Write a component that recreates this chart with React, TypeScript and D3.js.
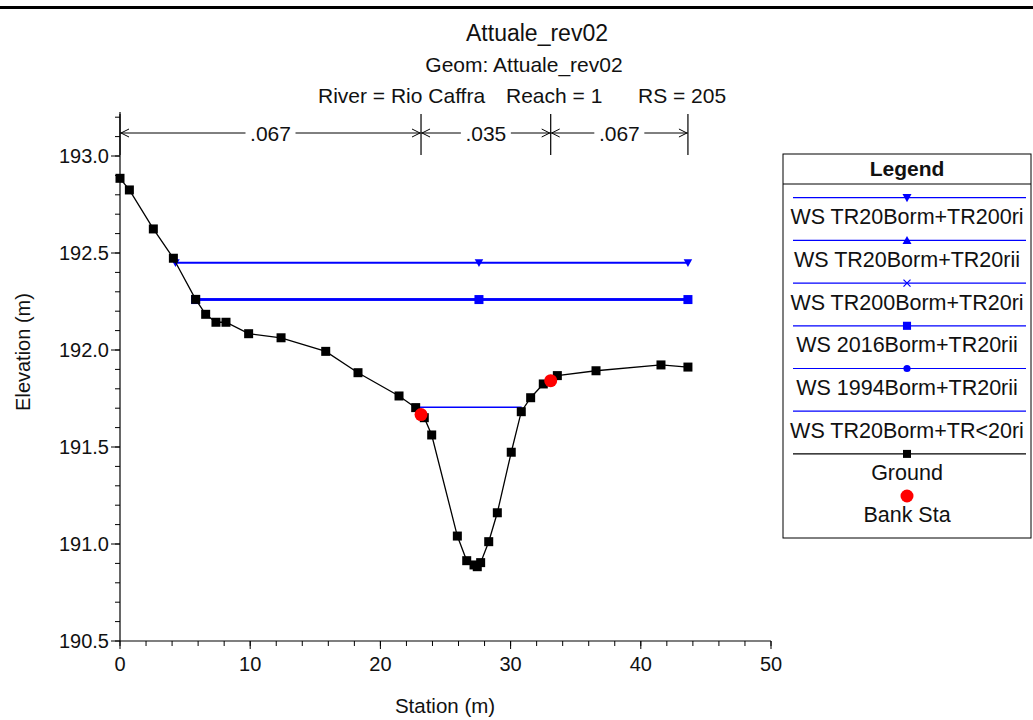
import React from "react";
import * as d3 from "d3";

const groundStation = [0, 0.72, 2.56, 4.1, 5.81, 6.58, 7.37, 8.14, 9.88, 12.37, 15.8, 18.28, 21.43, 22.71, 23.37, 23.94, 25.91, 26.63, 27.19, 27.44, 27.7, 28.32, 28.98, 30.05, 30.82, 31.54, 32.51, 33.59, 36.56, 41.55, 43.62];
const groundElev = [192.885, 192.825, 192.624, 192.473, 192.261, 192.184, 192.143, 192.143, 192.084, 192.063, 191.993, 191.883, 191.763, 191.703, 191.651, 191.562, 191.041, 190.914, 190.892, 190.883, 190.904, 191.012, 191.161, 191.473, 191.682, 191.754, 191.825, 191.868, 191.893, 191.923, 191.912];

const bankStation = [23.12, 33.08];
const bankElev = [191.667, 191.842];

const manningBreaks = [0, 23.12, 33.08, 43.62];
const manningN = [".067", ".035", ".067"];

const wsNames = ["WS TR20Borm+TR200ri", "WS TR20Borm+TR20rii", "WS TR200Borm+TR20ri", "WS 2016Borm+TR20rii", "WS 1994Borm+TR20rii", "WS TR20Borm+TR<20ri"];
const wsElev = [192.45, 192.26, 192.26, 192.26, 192.26, 191.705];
const wsLeft = [4.26, 5.81, 5.81, 5.81, 5.81, 22.75];
const wsRight = [43.62, 43.62, 43.62, 43.62, 43.62, 30.85];
const wsSymbol = ["triangleDown", "triangleUp", "cross", "square", "circle", "none"];
const wsMarkerMid = 27.57;

const xTicks = [0, 10, 20, 30, 40, 50];
const yTicks = [190.5, 191.0, 191.5, 192.0, 192.5, 193.0];

const FONT = "'Liberation Sans', Arial, sans-serif";
const BLUE = "#0000ff";

function Marker({ type, x, y, color, s = 1 }: { type: string; x: number; y: number; color: string; s?: number }) {
  if (type === "square") return <rect x={x - 4.5 * s} y={y - 4.5 * s} width={9 * s} height={9 * s} fill={color} />;
  if (type === "circle") return <circle cx={x} cy={y} r={4 * s} fill={color} />;
  if (type === "triangleDown") return <path d={`M${x - 5 * s},${y - 4 * s}L${x + 5 * s},${y - 4 * s}L${x},${y + 5 * s}Z`} fill={color} />;
  if (type === "triangleUp") return <path d={`M${x - 5 * s},${y + 4 * s}L${x + 5 * s},${y + 4 * s}L${x},${y - 5 * s}Z`} fill={color} />;
  if (type === "cross") return <path d={`M${x - 3.5},${y - 3.5}L${x + 3.5},${y + 3.5}M${x - 3.5},${y + 3.5}L${x + 3.5},${y - 3.5}`} stroke={color} strokeWidth={1.2} />;
  return null;
}

export default function App() {
  const x = d3.scaleLinear().domain([0, 50]).range([120, 771]);
  const y = d3.scaleLinear().domain([190.5, 193.0]).range([641, 156]);
  const yTop = y.invert(112);

  const line = d3.line<[number, number]>().x((d) => x(d[0])).y((d) => y(d[1]));
  const groundPts: [number, number][] = groundStation.map((s, i) => [s, groundElev[i]]);

  const yMinor = d3.range(190.5, yTop, 0.1).map((v) => +v.toFixed(2));
  const xMinor = d3.range(0, 50.01, 2);

  const drawOrder = [5, 1, 2, 4, 3, 0];

  const dimY = 133;
  const legX = 783, legW = 248, legTop = 154, legBottom = 538;
  const legCx = legX + legW / 2;
  const rowH = 42.7;

  return (
    <svg width={1033} height={720} style={{ position: "absolute", left: 0, top: 0, background: "#fff" }} fontFamily={FONT}>
      <rect x={0} y={0} width={1033} height={720} fill="#fff" />
      <rect x={0} y={6} width={1033} height={3} fill="#000" />

      {/* Titles */}
      <text x={537} y={41} textAnchor="middle" fontSize={23} fill="#111">Attuale_rev02</text>
      <text x={524} y={72} textAnchor="middle" fontSize={21} fill="#111">Geom: Attuale_rev02</text>
      <text x={318} y={103} fontSize={21} fill="#111">River = Rio Caffra</text>
      <text x={506} y={103} fontSize={21} fill="#111">Reach = 1</text>
      <text x={638} y={103} fontSize={21} fill="#111">RS = 205</text>

      {/* Manning's n dimension lines */}
      {manningBreaks.map((s, i) => (
        <line key={"vb" + i} x1={x(s)} x2={x(s)} y1={114} y2={155} stroke="#000" strokeWidth={1.2} />
      ))}
      {manningN.map((n, i) => {
        const x0 = x(manningBreaks[i]);
        const x1 = x(manningBreaks[i + 1]);
        const cx = (x0 + x1) / 2;
        const tw = 42;
        return (
          <g key={"n" + i}>
            <line x1={x0} x2={cx - tw / 2 - 4} y1={dimY} y2={dimY} stroke="#000" strokeWidth={1} />
            <line x1={cx + tw / 2 + 4} x2={x1} y1={dimY} y2={dimY} stroke="#000" strokeWidth={1} />
            <path d={`M${x0 + 9},${dimY - 4}L${x0 + 1},${dimY}L${x0 + 9},${dimY + 4}`} fill="none" stroke="#000" strokeWidth={1} />
            <path d={`M${x1 - 9},${dimY - 4}L${x1 - 1},${dimY}L${x1 - 9},${dimY + 4}`} fill="none" stroke="#000" strokeWidth={1} />
            <text x={cx} y={dimY + 8} textAnchor="middle" fontSize={21} fill="#111">{n}</text>
          </g>
        );
      })}

      {/* Axes */}
      <line x1={120} x2={120} y1={112} y2={641} stroke="#000" strokeWidth={1.2} />
      <line x1={120} x2={771} y1={641} y2={641} stroke="#000" strokeWidth={1.2} />
      {yMinor.map((v, i) => (
        <line key={"ym" + i} x1={115} x2={120} y1={y(v)} y2={y(v)} stroke="#000" strokeWidth={1} />
      ))}
      {yTicks.map((v) => (
        <g key={"yt" + v}>
          <line x1={111} x2={120} y1={y(v)} y2={y(v)} stroke="#000" strokeWidth={1} />
          <text x={109} y={y(v) + 7} textAnchor="end" fontSize={20} fill="#111">{d3.format(".1f")(v)}</text>
        </g>
      ))}
      {xMinor.map((v, i) => (
        <line key={"xm" + i} x1={x(v)} x2={x(v)} y1={641} y2={646} stroke="#000" strokeWidth={1} />
      ))}
      {xTicks.map((v) => (
        <g key={"xt" + v}>
          <line x1={x(v)} x2={x(v)} y1={641} y2={649} stroke="#000" strokeWidth={1} />
          <text x={x(v)} y={671} textAnchor="middle" fontSize={20} fill="#111">{v}</text>
        </g>
      ))}
      <text x={445} y={713} textAnchor="middle" fontSize={20.5} fill="#111">Station (m)</text>
      <text transform={`translate(30,352) rotate(-90)`} textAnchor="middle" fontSize={20} fill="#111">Elevation (m)</text>

      {/* Water surfaces */}
      {drawOrder.map((i) => {
        const pts: [number, number][] = [[wsLeft[i], wsElev[i]], [wsRight[i], wsElev[i]]];
        const ms = [wsLeft[i], wsMarkerMid, wsRight[i]];
        return (
          <g key={"ws" + i}>
            <path d={line(pts) || ""} stroke={BLUE} strokeWidth={i === 5 ? 1.3 : 2} fill="none" />
            {wsSymbol[i] !== "none" && ms.map((s, k) => <Marker key={k} type={wsSymbol[i]} x={x(s)} y={y(wsElev[i])} color={BLUE} s={wsSymbol[i] === "square" ? 1 : 0.85} />)}
          </g>
        );
      })}

      {/* Ground */}
      <path d={line(groundPts) || ""} stroke="#000" strokeWidth={1.3} fill="none" />
      {groundPts.map((p, i) => (
        <rect key={"g" + i} x={x(p[0]) - 4.5} y={y(p[1]) - 4.5} width={9} height={9} fill="#000" />
      ))}
      {bankStation.map((s, i) => (
        <circle key={"b" + i} cx={x(s)} cy={y(bankElev[i])} r={6.5} fill="#ff0000" />
      ))}

      {/* Legend */}
      <rect x={legX} y={legTop} width={legW} height={legBottom - legTop} fill="#fff" stroke="#000" strokeWidth={1} />
      <line x1={legX} x2={legX + legW} y1={184} y2={184} stroke="#000" strokeWidth={1} />
      <text x={legCx} y={176} textAnchor="middle" fontSize={21} fontWeight="bold" fill="#111">Legend</text>
      {wsNames.map((name, i) => {
        const ly = 197.7 + i * rowH;
        return (
          <g key={"l" + i}>
            <line x1={793} x2={1026} y1={ly} y2={ly} stroke={BLUE} strokeWidth={1.2} />
            <Marker type={wsSymbol[i]} x={legCx} y={ly} color={BLUE} s={0.9} />
            <text x={legCx} y={ly + 26.5} textAnchor="middle" fontSize={21.5} fill="#111">{name}</text>
          </g>
        );
      })}
      <line x1={793} x2={1026} y1={197.7 + 6 * rowH} y2={197.7 + 6 * rowH} stroke="#000" strokeWidth={1.2} />
      <rect x={legCx - 4} y={197.7 + 6 * rowH - 4} width={8} height={8} fill="#000" />
      <text x={legCx} y={197.7 + 6 * rowH + 26.5} textAnchor="middle" fontSize={21.5} fill="#111">Ground</text>
      <circle cx={legCx} cy={496} r={6.5} fill="#ff0000" />
      <text x={legCx} y={522} textAnchor="middle" fontSize={21.5} fill="#111">Bank Sta</text>
    </svg>
  );
}
